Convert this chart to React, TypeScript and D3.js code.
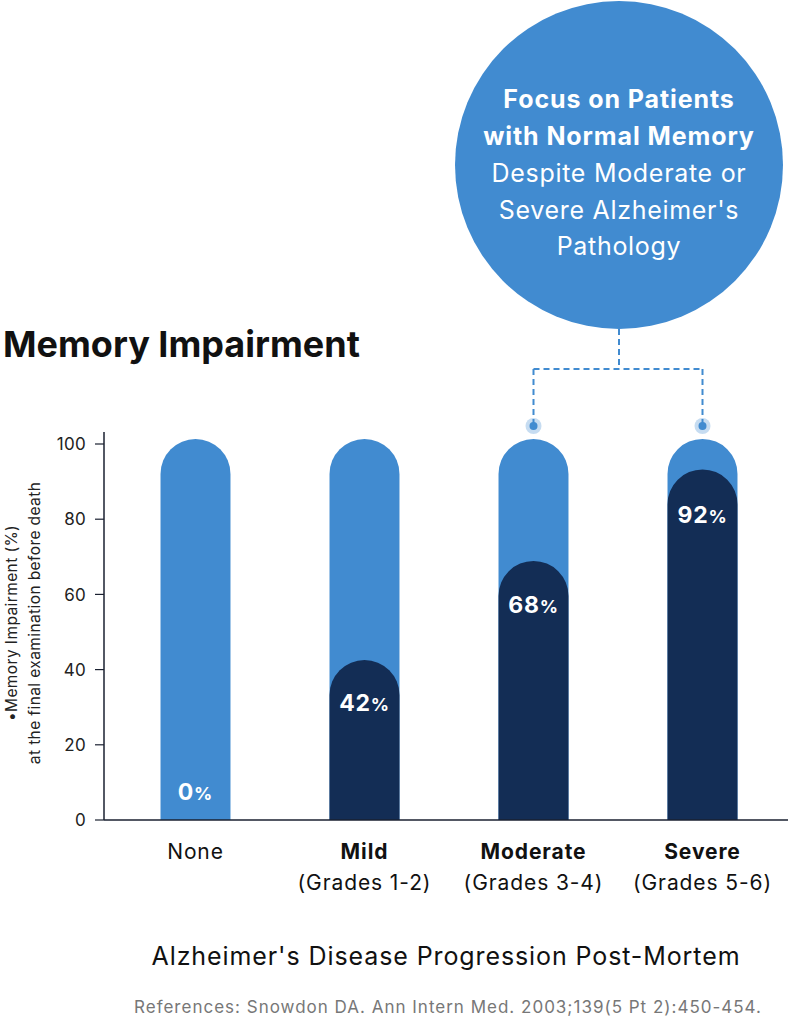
import React from "react";
import * as d3 from "d3";

const categories = ["None", "Mild", "Moderate", "Severe"];
const grades = ["", "(Grades 1-2)", "(Grades 3-4)", "(Grades 5-6)"];
const impairment = [0, 42, 68, 92];
const fullScale = 100;
const yTicks = [0, 20, 40, 60, 80, 100];
const highlighted = ["Moderate", "Severe"];
const calloutBold = ["Focus on Patients", "with Normal Memory"];
const calloutRegular = ["Despite Moderate or", "Severe Alzheimer's", "Pathology"];

const W = 788;
const H = 1019;
const LIGHT = "#418bd0";
const DARK = "#132d55";
const FONT = "Inter, 'Noto Sans', sans-serif";

export default function App() {
  const x = d3.scaleBand().domain(categories).range([111, 787]).paddingInner(0.586).paddingOuter(0.293);
  const y = d3.scaleLinear().domain([0, 100]).range([820, 444]);
  // bars run slightly above their axis value so the rounded cap reaches it
  const barY = d3.scaleLinear().domain([0, 100]).range([820, 439]);
  const bw = x.bandwidth();
  const r = bw / 2;

  const capPath = (top: number, left: number) => {
    const p = d3.path();
    const bottom = y(0);
    p.moveTo(left, bottom);
    p.lineTo(left, top + r);
    p.arc(left + r, top + r, r, Math.PI, 0);
    p.lineTo(left + bw, bottom);
    p.closePath();
    return p.toString();
  };

  const cx = 619;
  const cy = 165;
  const cr = 164;
  const joinY = 369;
  const dotY = 426;
  const hx = highlighted.map((c) => (x(c) as number) + r);

  return (
    <svg width={W} height={H} style={{ display: "block", position: "absolute", left: 0, top: 0 }} fontFamily={FONT}>
      {/* callout bubble */}
      <circle cx={cx} cy={cy} r={cr} fill={LIGHT} />
      {calloutBold.map((t, i) => (
        <text key={t} x={cx} y={108 + i * 37} textAnchor="middle" fill="#fff" fontSize={25} fontWeight={700} letterSpacing={0.9}>
          {t}
        </text>
      ))}
      {calloutRegular.map((t, i) => (
        <text key={t} x={cx} y={182 + i * 36.5} textAnchor="middle" fill="#fff" fontSize={25} fontWeight={400} letterSpacing={0.7}>
          {t}
        </text>
      ))}

      {/* connector */}
      <path
        d={`M${cx},${cy + cr} V${joinY} M${hx[0]},${joinY} H${hx[1]} M${hx[0]},${joinY} V${dotY} M${hx[1]},${joinY} V${dotY}`}
        fill="none"
        stroke={LIGHT}
        strokeWidth={2}
        strokeDasharray="6 4"
      />
      {hx.map((px, i) => (
        <g key={i}>
          <circle cx={px} cy={dotY} r={8} fill={LIGHT} opacity={0.3} />
          <circle cx={px} cy={dotY} r={4} fill={LIGHT} />
        </g>
      ))}

      <text x={3} y={357} fontSize={36} fontWeight={700} fill="#111">
        Memory Impairment
      </text>

      {/* bars */}
      {categories.map((c, i) => {
        const left = x(c) as number;
        const v = impairment[i];
        const top = barY(v);
        const labelY = Math.min(y(v - 13), 800);
        return (
          <g key={c}>
            <path d={capPath(barY(fullScale), left)} fill={LIGHT} />
            {v > 0 && <path d={capPath(top, left)} fill={DARK} />}
            <text x={left + r} y={labelY} textAnchor="middle" fill="#fff" fontWeight={700} letterSpacing={0.8}>
              <tspan fontSize={23}>{v}</tspan>
              <tspan fontSize={18}>%</tspan>
            </text>
          </g>
        );
      })}

      {/* axes */}
      <line x1={104} x2={104} y1={432} y2={y(0)} stroke="#1a2030" strokeWidth={1.5} />
      <line x1={104} x2={W} y1={y(0)} y2={y(0)} stroke="#1a2030" strokeWidth={1.5} />
      {yTicks.map((t) => (
        <g key={t}>
          <line x1={95} x2={104} y1={y(t)} y2={y(t)} stroke="#1a2030" strokeWidth={1.2} />
          <text x={86} y={y(t)} dy="0.36em" textAnchor="end" fontSize={17} fill="#222" letterSpacing={0.3}>
            {t}
          </text>
        </g>
      ))}
      <g transform="translate(0,623) rotate(-90)">
        <text x={0} y={17} textAnchor="middle" fontSize={15.5} fill="#222" letterSpacing={0.4}>
          •Memory Impairment (%)
        </text>
        <text x={0} y={40} textAnchor="middle" fontSize={15.5} fill="#222" letterSpacing={0.4}>
          at the final examination before death
        </text>
      </g>

      {categories.map((c, i) => (
        <g key={c}>
          <text x={(x(c) as number) + r} y={859} textAnchor="middle" fontSize={21} fontWeight={i === 0 ? 400 : 700} fill="#111" letterSpacing={0.9}>
            {c}
          </text>
          <text x={(x(c) as number) + r} y={890} textAnchor="middle" fontSize={21} fill="#111" letterSpacing={0.9}>
            {grades[i]}
          </text>
        </g>
      ))}

      <text x={446} y={965} textAnchor="middle" fontSize={25} fill="#111" letterSpacing={0.9}>
        Alzheimer's Disease Progression Post-Mortem
      </text>
      <text x={448} y={1013} textAnchor="middle" fontSize={17} fill="#777" letterSpacing={1}>
        References: Snowdon DA. Ann Intern Med. 2003;139(5 Pt 2):450-454.
      </text>
    </svg>
  );
}
